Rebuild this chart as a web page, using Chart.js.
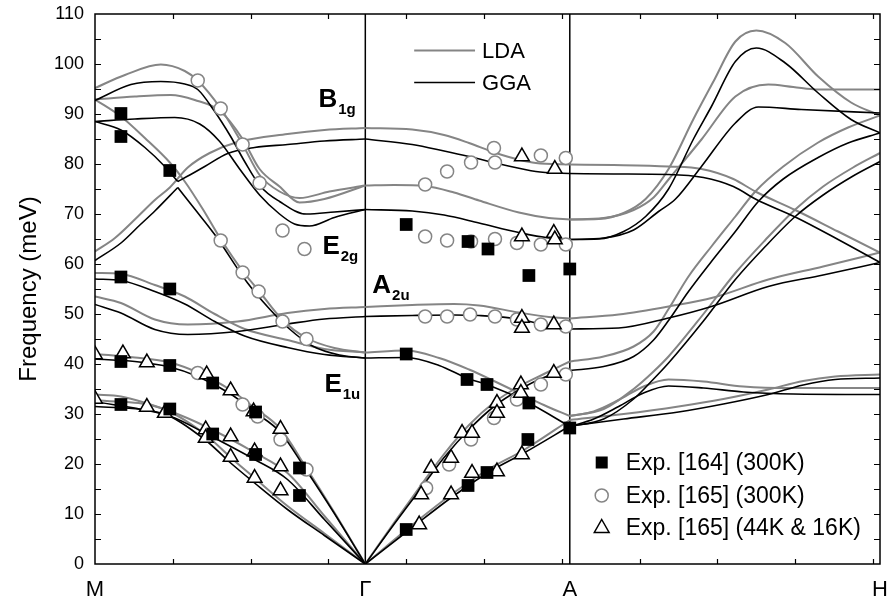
<!DOCTYPE html>
<html>
<head>
<meta charset="utf-8">
<script src="https://cdn.jsdelivr.net/npm/chart.js@4.4.0/dist/chart.umd.min.js"></script>
<style>
html, body { margin: 0; padding: 0; background: #fff; }
</style>
</head>
<body>
<canvas id="phonon" width="890" height="605"></canvas>
<script>
// path coordinate: M = 0, Gamma = 271, A = 476, H = 787
var symPos = [0, 271, 476, 787];
var symLabels = ['M', 'Γ', 'A', 'H'];

// LDA (grey) branches, [position, meV]
var ldaMG = [
    [[0,95.2],[30,97.8],[66,99.9],[90,98.6],[103,96.7],[126,91.1],[148,83.9],[165,77.8],[185,74.5],[205,73.2],[235,74.5],[271,75.7]],
    [[0,92.9],[40,93.5],[76,93.8],[100,92.8],[126,90.5],[148,85],[165,79],[185,75.5],[205,72.3],[230,73],[271,75.7]],
    [[0,62.5],[20,65.2],[43,69.5],[60,72.8],[75,75.3],[93,79.3],[115,82.2],[143,84.4],[193,86],[230,86.8],[271,87.2]],
    [[0,92.9],[26,89.5],[50,85.2],[75,80.3],[90,76.5],[108,71],[126,65],[148,58.6],[164,54.7],[188,48.8],[212,45.2],[240,43.2],[271,42.3]],
    [[0,58.2],[26,58],[60,55.8],[90,53.5],[120,50],[150,47],[193,44.8],[230,43],[271,42.3]],
    [[0,53.5],[26,52.2],[60,48.9],[93,47.9],[143,48.5],[193,50.2],[230,51],[271,51.4]],
    [[0,42],[40,41.3],[75,40.3],[103,38.3],[136,34.8],[160,31.2],[186,27],[210,19.8],[240,10.3],[271,0]],
    [[0,33.9],[26,33.5],[76,30.5],[110,27.6],[160,22.3],[193,18.2],[230,9.6],[271,0]],
    [[0,32.8],[66,31.2],[110,26],[136,21.3],[160,17.2],[193,11.6],[230,6.1],[271,0]]
];
var ldaGA = [
    [[271,87.2],[318,86.9],[350,85.8],[375,84.2],[402,82.2],[442,80.2],[476,79.9]],
    [[271,75.7],[300,75.8],[331,75.6],[360,74.3],[385,72.7],[425,70.3],[455,69.2],[476,68.9]],
    [[271,51.4],[318,51.8],[360,52],[385,51.7],[425,50.3],[455,49.4],[476,49.1]],
    [[271,42.3],[312,42.7],[345,41.2],[375,38.9],[400,36.6],[425,34.2],[450,31.8],[476,29.6]],
    [[271,0],[300,8.3],[327,15.8],[350,22],[375,27.8],[400,32.3],[425,35.5],[450,38],[476,40.5]],
    [[271,0],[318,7.8],[358,14],[395,19],[430,22.8],[476,28.8]]
];
var ldaAH = [
    [[476,79.9],[520,79.8],[575,79.5],[608,79],[640,77],[662,74.5],[702,70.8],[745,66.5],[787,62.3]],
    [[476,68.9],[505,69],[530,70.2],[552,73],[575,79],[600,89],[620,96.5],[642,104.5],[663,106.7],[692,104.2],[725,97.5],[758,92.3],[787,89.7]],
    [[476,68.9],[510,69.2],[540,70.8],[560,73.3],[575,76.9],[608,84.9],[642,93.5],[675,95.9],[700,95.4],[725,94.9],[787,94.9]],
    [[476,49.1],[525,49.9],[575,51.5],[620,53.3],[675,56.9],[730,59.5],[787,62.3]],
    [[476,40.5],[510,41.5],[540,43.5],[560,46.5],[575,51],[595,57.5],[618,63.5],[642,69.5],[662,74.5],[690,79.5],[725,84.3],[755,87.3],[787,89.7]],
    [[476,29.6],[510,31],[540,35],[560,38.5],[575,41.5],[610,50],[642,58.2],[672,64.8],[702,70.9],[730,75.5],[760,79.3],[787,82.2]],
    [[476,29.6],[500,30.5],[525,32.8],[550,35.5],[575,36.9],[610,36.5],[650,35.5],[700,35.2],[787,35.2]],
    [[476,28.8],[530,30],[585,31.5],[630,33],[675,34.9],[710,36.6],[742,37.5],[787,37.9]]
];

// GGA (black) branches
var ggaMG = [
    [[0,92.7],[36,95.9],[66,96.5],[90,96],[103,94.9],[120,90.5],[136,85.5],[150,80.5],[166,75.5],[185,72.5],[212,70],[240,70.4],[271,70.9]],
    [[0,88.5],[40,89],[80,89.3],[105,88],[125,84.5],[145,79],[165,73.8],[185,70],[200,68],[215,67.6],[240,69.3],[271,70.9]],
    [[0,88.5],[26,86.8],[50,83.3],[70,79.5],[83,76.5]],
    [[83,76.5],[95,77.8],[110,79.5],[133,82.1],[160,83.3],[193,83.9],[230,84.6],[271,85]],
    [[0,60.7],[26,64.2],[45,67.8],[60,70.6],[83,75.3]],
    [[83,75.3],[100,71],[120,65.9],[153,56.2],[175,51],[195,47],[218,43.6],[245,41.8],[271,41.2]],
    [[0,57],[26,56.7],[60,54.5],[90,52],[120,48.5],[150,45.6],[193,43.3],[230,41.9],[271,41.2]],
    [[0,51.9],[26,50.2],[60,46.9],[93,45.9],[143,46.5],[193,48],[230,49],[271,49.5]],
    [[0,41],[40,40.5],[75,39.4],[103,37.5],[136,34],[160,30.4],[186,26.3],[210,19.3],[240,10.1],[271,0]],
    [[0,32.5],[76,29.5],[110,26.2],[160,20.9],[193,16.9],[230,8.9],[271,0]],
    [[0,31.5],[66,30.2],[110,24.9],[136,20.2],[160,16.2],[193,10.9],[230,5.7],[271,0]]
];
var ggaGA = [
    [[271,85],[318,83.9],[350,82.6],[375,81.5],[408,79.9],[442,78.5],[476,78.1]],
    [[271,70.9],[318,70.6],[350,69.8],[385,68.2],[425,66.3],[455,65.2],[476,64.9]],
    [[271,49.5],[318,49.7],[360,49.8],[385,49.7],[425,49],[455,47.6],[476,47]],
    [[271,41.2],[312,41.3],[345,39.7],[375,37],[393,35.9],[435,32.2],[476,27.5]],
    [[271,0],[300,8],[327,15.2],[350,21.3],[375,26.9],[400,31.5],[425,34.8],[450,37.3],[476,38.7]],
    [[271,0],[318,7.3],[358,13.4],[395,18.4],[430,22.2],[476,27.6]]
];
var ggaAH = [
    [[476,78.1],[520,78],[575,77.9],[610,77.3],[640,75.5],[663,72.9],[702,69.4],[745,64.9],[787,60.3]],
    [[476,64.9],[505,65],[530,66.5],[552,69.5],[575,75],[600,85],[618,91.5],[642,100.5],[663,103.2],[692,100.2],[725,94.2],[758,88.9],[787,86.2]],
    [[476,64.9],[510,65.2],[540,66.8],[565,70.5],[582,73],[608,79.5],[642,88.2],[665,91.4],[708,90.9],[787,90.2]],
    [[476,47],[525,47.2],[575,49.2],[618,51.5],[675,55.5],[730,57.8],[787,60.3]],
    [[476,38.7],[510,39.5],[540,41.5],[560,44.8],[575,48.7],[595,54.5],[618,60.5],[642,66.5],[665,72.5],[690,77],[725,81.3],[755,84.2],[787,86.2]],
    [[476,27.5],[510,29],[540,33],[560,37],[575,40.2],[610,48.6],[642,56.9],[672,63.5],[702,69.5],[730,73.8],[760,77.6],[787,80.5]],
    [[476,27.5],[500,29],[525,31.5],[550,34.2],[575,35.6],[610,35.2],[650,34.4],[700,34],[787,33.9]],
    [[476,27.6],[530,29],[585,30.4],[630,32],[675,33.9],[710,35.8],[742,36.9],[787,37.2]]
];

// experiments
var exp164 = [
    [26,90.1],[26,85.5],[75,78.7],[26,57.4],[75,55.0],[26,40.5],[75,39.7],[118,36.2],[26,31.9],[75,31.0],
    [118,26.0],[161,30.4],[161,21.9],[205,19.2],[205,13.7],[312,67.9],[374,64.5],[394,63.0],[435,57.7],[476,59.0],
    [312,42.0],[373,36.9],[393,35.9],[435,32.2],[434,24.9],[393,18.3],[374,15.7],[312,6.9],[476,27.2]
];
var exp165rt = [
    [103,96.7],[126,91.1],[148,83.9],[165,76.2],[126,64.7],[148,58.3],[164,54.5],[188,48.5],[188,66.7],[210,63.0],
    [212,45.0],[103,38.2],[148,31.9],[163,29.5],[186,24.9],[212,18.9],[332,15.2],[355,19.9],[377,24.9],[400,29.2],
    [423,32.9],[447,35.9],[472,37.9],[331,49.5],[353,49.5],[376,49.9],[401,49.5],[423,48.9],[447,47.9],[472,47.5],
    [331,65.5],[353,64.7],[377,64.5],[401,65.0],[423,64.2],[447,63.9],[472,63.9],[331,75.9],[353,78.5],[377,80.3],
    [400,83.2],[401,80.3],[447,81.7],[472,81.2]
];
var exp165lt = [
    [0,41.9],[28,42.1],[52,40.3],[112,37.9],[136,34.7],[159,30.5],[0,33],[52,31.4],[70,30.2],[111,26.9],
    [136,25.5],[111,25.2],[136,21.4],[160,22.5],[160,17.2],[186,27],[186,19.5],[186,14.7],[325,7.9],[327,13.9],
    [337,19.2],[357,21.2],[357,13.9],[368,26.2],[378,26.2],[378,18.2],[403,32.2],[403,30.2],[427,35.9],[427,34.2],
    [460,38.2],[403,18.5],[428,21.9],[428,65.5],[460,66.2],[461,64.9],[428,49.2],[428,47.2],[460,47.9],[428,81.5],[461,79.0]
];

var FONT = "'Liberation Sans', Arial, sans-serif";
var GREY = '#858585';

function toXY(arr) {
    return arr.map(p => ({ x: p[0], y: p[1] }));
}

function branchSets(groups, color, width) {
    var out = [];
    groups.forEach(g => g.forEach(b => out.push({
        data: toXY(b),
        showLine: true,
        borderColor: color,
        borderWidth: width,
        pointRadius: 0,
        cubicInterpolationMode: 'monotone',
        order: 2
    })));
    return out;
}

var datasets = [
    { data: toXY(exp164), pointStyle: 'rect', pointRadius: 9, backgroundColor: '#000', borderColor: '#000', borderWidth: 0, order: 0 },
    { data: toXY(exp165lt), pointStyle: 'triangle', pointRadius: 8.5, backgroundColor: '#fff', borderColor: '#000', borderWidth: 1.5, order: 0 },
    { data: toXY(exp165rt), pointStyle: 'circle', pointRadius: 6.5, backgroundColor: '#fff', borderColor: GREY, borderWidth: 1.5, order: 0 }
]
    .concat(branchSets([ggaMG, ggaGA, ggaAH], '#000', 1.6))
    .concat(branchSets([ldaMG, ldaGA, ldaAH], GREY, 2));

function drawMode(ctx, main, sub, px, py) {
    ctx.font = 'bold 26px ' + FONT;
    ctx.textAlign = 'left';
    ctx.textBaseline = 'alphabetic';
    ctx.fillText(main, px, py);
    var w = ctx.measureText(main).width;
    ctx.font = 'bold 15px ' + FONT;
    ctx.fillText(sub, px + w + 1, py + 7);
}

// frame, inward ticks, symmetry lines, labels and legends
var decor = {
    id: 'decor',
    beforeDatasetsDraw(chart) {
        var ctx = chart.ctx, a = chart.chartArea, x = chart.scales.x;
        ctx.save();
        ctx.strokeStyle = '#000';
        ctx.lineWidth = 1.5;
        [symPos[1], symPos[2]].forEach(p => {
            var px = x.getPixelForValue(p);
            ctx.beginPath();
            ctx.moveTo(px, a.top);
            ctx.lineTo(px, a.bottom);
            ctx.stroke();
        });
        ctx.restore();
    },
    afterDraw(chart) {
        var ctx = chart.ctx, a = chart.chartArea, x = chart.scales.x, y = chart.scales.y;
        ctx.save();
        ctx.strokeStyle = '#000';
        ctx.lineWidth = 1.2;
        ctx.beginPath();
        for (var v = 5; v < 110; v += 5) {
            var py = Math.round(y.getPixelForValue(v)) + 0.5;
            ctx.moveTo(a.left, py); ctx.lineTo(a.left + 6, py);
            ctx.moveTo(a.right, py); ctx.lineTo(a.right - 6, py);
        }
        for (var u = 78; u < 787; u += 78) {
            var px = Math.round(x.getPixelForValue(u)) + 0.5;
            ctx.moveTo(px, a.top); ctx.lineTo(px, a.top + 5);
            ctx.moveTo(px, a.bottom); ctx.lineTo(px, a.bottom - 5);
        }
        ctx.stroke();
        ctx.lineWidth = 1.5;
        ctx.strokeRect(a.left, a.top, a.right - a.left, a.bottom - a.top);

        // mode labels
        ctx.fillStyle = '#000';
        drawMode(ctx, 'B', '1g', x.getPixelForValue(224), y.getPixelForValue(91.5));
        drawMode(ctx, 'E', '2g', x.getPixelForValue(228), y.getPixelForValue(62.1));
        drawMode(ctx, 'A', '2u', x.getPixelForValue(278), y.getPixelForValue(54.3));
        drawMode(ctx, 'E', '1u', x.getPixelForValue(230), y.getPixelForValue(34.5));

        // LDA / GGA legend
        ctx.font = '22px ' + FONT;
        ctx.textBaseline = 'middle';
        [[GREY, 'LDA', 102.7], ['#000', 'GGA', 96.3]].forEach(item => {
            var ly = y.getPixelForValue(item[2]);
            ctx.strokeStyle = item[0];
            ctx.lineWidth = item[0] === GREY ? 2 : 1.6;
            ctx.beginPath();
            ctx.moveTo(x.getPixelForValue(320), ly);
            ctx.lineTo(x.getPixelForValue(381), ly);
            ctx.stroke();
            ctx.fillText(item[1], x.getPixelForValue(388), ly + 1);
        });

        // experiment legend
        var mx = x.getPixelForValue(508), tx = x.getPixelForValue(532);
        var rows = [
            ['Exp. [164] (300K)', 20.3],
            ['Exp. [165] (300K)', 13.7],
            ['Exp. [165] (44K & 16K)', 7.3]
        ];
        ctx.font = '23px ' + FONT;
        rows.forEach((r, i) => {
            var ry = y.getPixelForValue(r[1]);
            ctx.beginPath();
            if (i === 0) {
                ctx.fillStyle = '#000';
                ctx.fillRect(mx - 6, ry - 6, 12, 12);
            } else if (i === 1) {
                ctx.strokeStyle = GREY;
                ctx.lineWidth = 1.5;
                ctx.fillStyle = '#fff';
                ctx.arc(mx, ry, 6.5, 0, Math.PI * 2);
                ctx.fill();
                ctx.stroke();
            } else {
                ctx.strokeStyle = '#000';
                ctx.lineWidth = 1.5;
                ctx.moveTo(mx, ry - 8);
                ctx.lineTo(mx + 7.4, ry + 5);
                ctx.lineTo(mx - 7.4, ry + 5);
                ctx.closePath();
                ctx.stroke();
            }
            ctx.fillStyle = '#000';
            ctx.fillText(r[0], tx, ry + 1);
        });
        ctx.restore();
    }
};

var ctx = document.getElementById('phonon').getContext('2d');

var myChart = new Chart(ctx, {
    type: 'scatter',
    data: { datasets: datasets },
    options: {
        responsive: false,
        animation: false,
        events: [],
        layout: { padding: { left: 0, right: 8, top: 14, bottom: 0 } },
        plugins: { legend: { display: false }, tooltip: { enabled: false } },
        scales: {
            x: {
                type: 'linear',
                min: 0,
                max: 787,
                // hidden tick marks only push the labels down
                grid: { display: false, drawTicks: true, tickLength: 13 },
                border: { display: false },
                afterBuildTicks: s => { s.ticks = symPos.map(v => ({ value: v })); },
                afterFit: s => { s.height = 41; },
                ticks: {
                    autoSkip: false,
                    maxRotation: 0,
                    padding: 0,
                    color: '#000',
                    font: { family: FONT, size: 22 },
                    callback: v => symLabels[symPos.indexOf(v)]
                }
            },
            y: {
                min: 0,
                max: 110,
                grid: { display: false, drawTicks: true, tickLength: 11 },
                border: { display: false },
                afterFit: s => { s.width = 95; },
                ticks: { stepSize: 10, padding: 0, color: '#000', font: { family: FONT, size: 18 } },
                title: {
                    display: true,
                    text: 'Frequency (meV)',
                    color: '#000',
                    font: { family: FONT, size: 24 },
                    padding: { top: 15, bottom: 0 }
                }
            }
        }
    },
    plugins: [decor]
});
</script>
</body>
</html>
